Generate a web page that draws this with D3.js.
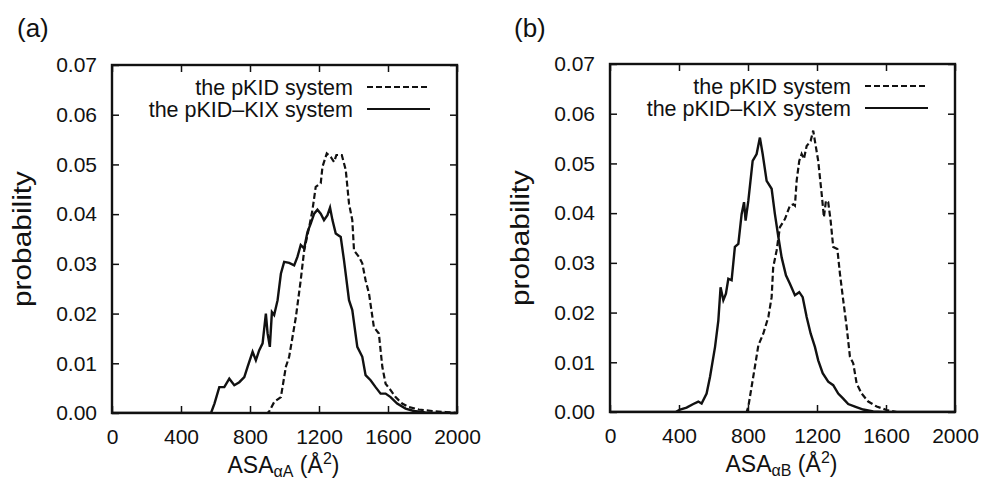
<!DOCTYPE html>
<html>
<head>
<meta charset="utf-8">
<script src="https://cdn.jsdelivr.net/npm/d3@7"></script>
<style>
  html, body { margin: 0; padding: 0; background: #fff; }
  svg { display: block; }
  text { font-family: "Liberation Sans", Arial, Helvetica, sans-serif; fill: #111; }
</style>
</head>
<body>
<svg id="chart" width="985" height="482"></svg>
<script>
// ---- data ----
const xTicks = [0, 400, 800, 1200, 1600, 2000];
const yTicks = [0.00, 0.01, 0.02, 0.03, 0.04, 0.05, 0.06, 0.07];
const seriesNames = ["the pKID system", "the pKID\u2013KIX system"];
const panelLabels = ["(a)", "(b)"];
const xLabelSubs = ["\u03b1A", "\u03b1B"];

// panel (a): pKID (dashed)
const aPkidX = [0, 900, 911, 940, 979, 1008, 1027, 1066, 1094, 1114, 1143, 1162, 1181, 1210, 1220, 1245, 1268, 1287, 1301, 1332, 1355, 1374, 1393, 1403, 1432, 1451, 1470, 1490, 1518, 1547, 1567, 1586, 1615, 1644, 1682, 1721, 1779, 1856, 1933, 2000];
const aPkidY = [0, 0, 0.0003, 0.0022, 0.0032, 0.0093, 0.0113, 0.0193, 0.0267, 0.0327, 0.0374, 0.0408, 0.0455, 0.0462, 0.0495, 0.0522, 0.0515, 0.0505, 0.0519, 0.0519, 0.0489, 0.0421, 0.0388, 0.0327, 0.0314, 0.0301, 0.0267, 0.0240, 0.0173, 0.0160, 0.0093, 0.0059, 0.0046, 0.0032, 0.0019, 0.0012, 0.0007, 0.0004, 0.0002, 0];
// panel (a): pKID-KIX (solid)
const aKixX = [0, 574, 594, 622, 651, 680, 709, 738, 767, 786, 815, 834, 853, 873, 892, 902, 915, 927, 940, 960, 979, 998, 1027, 1056, 1075, 1094, 1114, 1133, 1152, 1172, 1191, 1210, 1229, 1249, 1264, 1278, 1297, 1326, 1345, 1374, 1393, 1422, 1451, 1470, 1499, 1528, 1557, 1586, 1615, 1653, 1702, 1750, 1817, 1856, 2000];
const aKixY = [0, 0, 0.0019, 0.0052, 0.0052, 0.0069, 0.0056, 0.0062, 0.0072, 0.0093, 0.0123, 0.0106, 0.0126, 0.0140, 0.0200, 0.0160, 0.0133, 0.0203, 0.0197, 0.0227, 0.0280, 0.0304, 0.0302, 0.0297, 0.0314, 0.0338, 0.0331, 0.0364, 0.0381, 0.0401, 0.0409, 0.0401, 0.0388, 0.0398, 0.0413, 0.0388, 0.0361, 0.0354, 0.0307, 0.0227, 0.0207, 0.0133, 0.0113, 0.0076, 0.0066, 0.0052, 0.0039, 0.0039, 0.0032, 0.0019, 0.0009, 0.0004, 0.0001, 0, 0];

// panel (b): pKID (dashed)
const bPkidX = [0, 792, 802, 821, 840, 860, 889, 918, 937, 946, 966, 985, 1014, 1043, 1063, 1072, 1082, 1097, 1111, 1124, 1140, 1163, 1178, 1188, 1207, 1227, 1240, 1252, 1265, 1279, 1294, 1318, 1333, 1352, 1372, 1391, 1410, 1430, 1459, 1497, 1546, 1604, 1662, 2000];
const bPkidY = [0, 0, 0.0011, 0.0051, 0.0091, 0.0134, 0.0158, 0.0191, 0.0231, 0.0291, 0.0325, 0.0372, 0.0388, 0.0415, 0.0418, 0.0415, 0.0465, 0.0505, 0.0519, 0.0509, 0.0535, 0.0545, 0.0566, 0.0545, 0.0505, 0.0439, 0.0392, 0.0425, 0.0422, 0.0385, 0.0332, 0.0328, 0.0278, 0.0225, 0.0171, 0.0111, 0.0098, 0.0057, 0.0037, 0.0021, 0.0011, 0.0004, 0, 0];
// panel (b): pKID-KIX (solid)
const bKixX = [0, 380, 406, 444, 483, 512, 531, 560, 580, 609, 628, 641, 657, 672, 686, 705, 724, 744, 763, 777, 786, 802, 827, 850, 869, 885, 908, 937, 956, 976, 995, 1020, 1043, 1072, 1097, 1117, 1140, 1163, 1188, 1207, 1233, 1265, 1294, 1323, 1352, 1381, 1420, 1468, 1526, 1584, 2000];
const bKixY = [0, 0, 0.0005, 0.0009, 0.0016, 0.0021, 0.0017, 0.0037, 0.0071, 0.0131, 0.0184, 0.0251, 0.0225, 0.0238, 0.0268, 0.0265, 0.0332, 0.0338, 0.0398, 0.0422, 0.0385, 0.0425, 0.0505, 0.0519, 0.0552, 0.0519, 0.0465, 0.0449, 0.0398, 0.0352, 0.0311, 0.0275, 0.0258, 0.0235, 0.0241, 0.0231, 0.0191, 0.0158, 0.0131, 0.0104, 0.0078, 0.0061, 0.0054, 0.0037, 0.0027, 0.0016, 0.0011, 0.0005, 0.0001, 0, 0];

// ---- drawing ----
const svg = d3.select("#chart");
const fontSize = 21;

const panels = [
  { left: 112, top: 65, width: 345, height: 348, pkid: [aPkidX, aPkidY], kix: [aKixX, aKixY], label: panelLabels[0], sub: xLabelSubs[0], labelX: 17, ylabel: true },
  { left: 610, top: 64, width: 345, height: 348, pkid: [bPkidX, bPkidY], kix: [bKixX, bKixY], label: panelLabels[1], sub: xLabelSubs[1], labelX: 514, ylabel: true }
];

function zip(xs, ys) { return xs.map((x, i) => [x, ys[i]]); }

panels.forEach(p => {
  const g = svg.append("g").attr("transform", `translate(${p.left},${p.top})`);
  const x = d3.scaleLinear().domain([0, 2000]).range([0, p.width]);
  const y = d3.scaleLinear().domain([0, 0.07]).range([p.height, 0]);

  const xb = g.append("g").attr("transform", `translate(0,${p.height})`)
    .call(d3.axisBottom(x).tickValues(xTicks).tickFormat(d3.format("d")).tickSizeInner(-7).tickSizeOuter(0).tickPadding(16));
  const yl = g.append("g")
    .call(d3.axisLeft(y).tickValues(yTicks).tickFormat(d3.format(".2f")).tickSizeInner(-7).tickSizeOuter(0).tickPadding(15));
  const xt = g.append("g")
    .call(d3.axisTop(x).tickValues(xTicks).tickFormat("").tickSizeInner(-7).tickSizeOuter(0));
  const yr = g.append("g").attr("transform", `translate(${p.width},0)`)
    .call(d3.axisRight(y).tickValues(yTicks).tickFormat("").tickSizeInner(-7).tickSizeOuter(0));
  [xb, yl, xt, yr].forEach(a => {
    a.select(".domain").remove();
    a.selectAll(".tick line").attr("stroke", "#111").attr("stroke-width", 1.5);
    a.selectAll("text").attr("font-size", fontSize).attr("fill", "#111")
      .attr("font-family", "Liberation Sans, Arial, sans-serif");
  });

  const line = d3.line().x(d => x(d[0])).y(d => y(d[1]));

  const clipId = "clip" + p.left;
  g.append("clipPath").attr("id", clipId).append("rect").attr("width", p.width).attr("height", p.height);

  g.append("path").datum(zip(p.pkid[0], p.pkid[1]))
    .attr("d", line).attr("fill", "none").attr("stroke", "#111")
    .attr("stroke-width", 2.2).attr("stroke-dasharray", "6,3")
    .attr("clip-path", `url(#${clipId})`);
  g.append("path").datum(zip(p.kix[0], p.kix[1]))
    .attr("d", line).attr("fill", "none").attr("stroke", "#111")
    .attr("stroke-width", 2.4)
    .attr("clip-path", `url(#${clipId})`);

  g.append("rect").attr("width", p.width).attr("height", p.height)
    .attr("fill", "none").attr("stroke", "#111").attr("stroke-width", 2.4);

  // legend
  const legY = [30, 52];
  const styles = ["6,3", null];
  seriesNames.forEach((name, i) => {
    g.append("text").attr("x", 241).attr("y", legY[i]).attr("text-anchor", "end")
      .attr("font-size", 21.5).text(name);
    g.append("line").attr("x1", 255).attr("x2", 318)
      .attr("y1", legY[i] - 8).attr("y2", legY[i] - 8)
      .attr("stroke", "#111").attr("stroke-width", 2.2)
      .attr("stroke-dasharray", styles[i]);
  });

  if (p.ylabel) {
    svg.append("text")
      .attr("transform", `translate(${p.left - 81},${p.top + p.height / 2}) rotate(-90)`)
      .attr("text-anchor", "middle").attr("font-size", 26)
      .attr("textLength", 136).attr("lengthAdjust", "spacingAndGlyphs")
      .text("probability");
  }

  const xl = svg.append("text").attr("x", p.left + p.width / 2 - 1).attr("y", p.top + p.height + 60)
    .attr("text-anchor", "middle").attr("font-size", 23);
  xl.append("tspan").text("ASA");
  xl.append("tspan").attr("font-size", 16).attr("dy", 4).text(p.sub);
  xl.append("tspan").attr("dy", -4).text(" (\u00c5");
  xl.append("tspan").attr("font-size", 16).attr("dy", -9).text("2");
  xl.append("tspan").attr("dy", 9).text(")");

  svg.append("text").attr("x", p.labelX).attr("y", 37).attr("font-size", 26).text(p.label);
});
</script>
</body>
</html>
